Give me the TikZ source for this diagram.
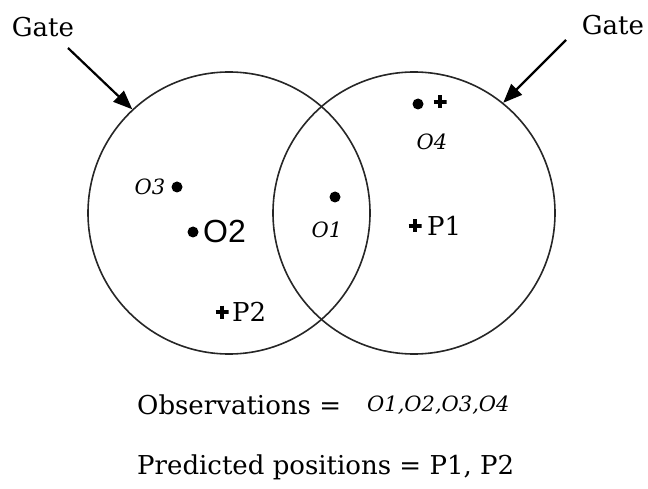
\documentclass[tikz,border=0pt]{standalone}
\usepackage{fontspec}
\setmainfont{DejaVu Serif}
\newfontfamily\obssans{Liberation Sans}
\usepackage{tikz}
\usetikzlibrary{arrows.meta,positioning}

\begin{document}
\begin{tikzpicture}[
  x=1pt, y=-1pt,
  gate/.style={draw=black!85,circle,line width=1.6pt,minimum size=282pt,inner sep=0pt},
  gatetext/.style={font=\fontsize{26}{28}\selectfont,inner sep=0pt},
  pointer/.style={-{Triangle[length=19pt,width=15pt]},line width=2.2pt},
  obs/.style={circle,fill,inner sep=0pt,minimum size=11pt},
  pred/.style={inner sep=0pt,minimum size=13pt,
    path picture={\draw[line width=3.8pt]
      (path picture bounding box.north) -- (path picture bounding box.south)
      (path picture bounding box.west) -- (path picture bounding box.east);}},
  obslabel/.style={font=\fontsize{21}{23}\selectfont\itshape,inner sep=0pt},
  predlabel/.style={font=\fontsize{26}{28}\selectfont,inner sep=0pt},
  caption/.style={font=\fontsize{26}{28}\selectfont,inner sep=0pt,anchor=west}
]
  \useasboundingbox (0,0) rectangle (648,489);
  % the two gates
  \node[gate] (leftGate) at (229,213) {};
  \node[gate] (rightGate) at (414,213) {};
  \node[gatetext] (gateL) at (43,27) {Gate};
  \node[gatetext] (gateR) at (613,25) {Gate};
  \coordinate (tailL) at (68,48);
  \coordinate (tailR) at (566,40);
  \draw[pointer] (tailL) -- (leftGate.133);
  \draw[pointer] (tailR) -- (rightGate.51);
  % observations
  \node[obs] (o1) at (335,197) {};
  \node[obs] (o2) at (193,232) {};
  \node[obs] (o3) at (177,187) {};
  \node[obs] (o4) at (418,104) {};
  \node[obslabel] (o1lab) at (327,230) {O1};
  \node[font=\obssans\fontsize{32}{34}\selectfont,inner sep=0pt,anchor=west] (o2lab) at (203,231) {O2};
  \node[obslabel] (o3lab) at (150,187) {O3};
  \node[obslabel] (o4lab) at (432,142) {O4};
  % predicted positions
  \node[pred] (p1) at (415,226) {};
  \node[pred] (p2) at (222,312) {};
  \node[pred] (p4) at (440,102) {};
  \node[predlabel,anchor=west] (p1lab) at (427,226) {P1};
  \node[predlabel,anchor=west] (p2lab) at (232,312) {P2};
  % key
  \node[caption] (obsKey) at (137,405) {Observations =};
  \node[obslabel,anchor=west] (obsList) at (367,405) {O1,O2,O3,O4};
  \node[caption] (predKey) at (137,467) {Predicted positions = P1, P2};
\end{tikzpicture}
\end{document}
